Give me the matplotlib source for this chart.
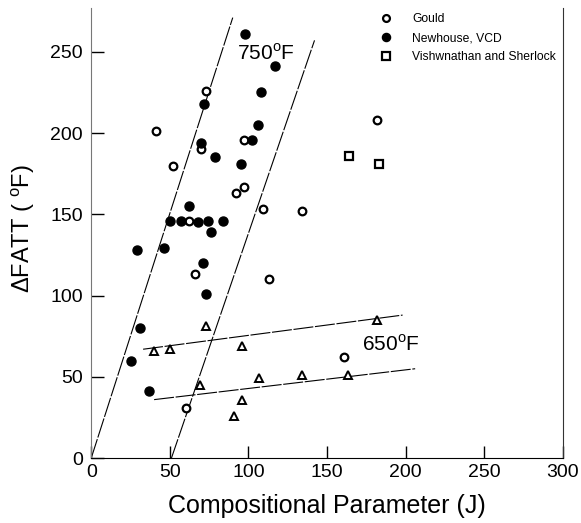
import matplotlib
matplotlib.use("Agg")
import matplotlib.pyplot as plt

plt.rcParams['font.family'] = ['Liberation Sans', 'DejaVu Sans']
plt.rcParams['mathtext.fontset'] = 'custom'
plt.rcParams['mathtext.rm'] = 'Liberation Sans'

# Gould (open circles)
gould_x = [41, 73, 70, 52, 62, 97, 97, 92, 109, 66, 113, 60, 182, 134, 161]
gould_y = [201, 226, 190, 180, 146, 196, 167, 163, 153, 113, 110, 31, 208, 152, 62]

# Newhouse, VCD (filled circles)
newh_x = [98, 117, 108, 72, 106, 102, 70, 79, 95, 62, 50, 57, 68, 74, 84, 76,
          29, 46, 71, 73, 31, 25, 37]
newh_y = [261, 241, 225, 218, 205, 196, 194, 185, 181, 155, 146, 146, 145, 146, 146, 139,
          128, 129, 120, 101, 80, 60, 41]

# Vishwnathan and Sherlock (squares)
vish_x = [164, 183]
vish_y = [186, 181]

# triangles (no legend entry)
tri_x = [73, 40, 50, 96, 69, 107, 96, 91, 182, 134, 163]
tri_y = [81, 66, 67, 69, 45, 49, 36, 26, 85, 51, 51]

# trend lines: (x0, x1), (y0, y1)
l750a_x, l750a_y = [0, 90], [0, 271]
l750b_x, l750b_y = [51, 142], [0, 257]
l650a_x, l650a_y = [33, 198], [67, 88]
l650b_x, l650b_y = [40, 206], [36, 55]

fig = plt.figure(figsize=(5.81, 5.23), dpi=100)
ax = fig.add_axes([0.157, 0.124, 0.812, 0.861])

for lx, ly in [(l750a_x, l750a_y), (l750b_x, l750b_y), (l650a_x, l650a_y), (l650b_x, l650b_y)]:
    ax.plot(lx, ly, color='black', lw=0.8, dashes=(18, 1.5))

ax.plot(gould_x, gould_y, 'o', ls='none', mfc='white', mec='black', mew=1.6, ms=5.5, label='Gould')
ax.plot(newh_x, newh_y, 'o', ls='none', color='black', ms=6.5, label='Newhouse, VCD')
ax.plot(vish_x, vish_y, 's', ls='none', mfc='white', mec='black', mew=1.6, ms=6, label='Vishwnathan and Sherlock')
ax.plot(tri_x, tri_y, '^', ls='none', mfc='white', mec='black', mew=1.4, ms=6)

ax.text(92.5, 249, r'750$^{\mathrm{o}}$F', fontsize=15, va='center', ha='left')
ax.text(172.5, 70, r'650$^{\mathrm{o}}$F', fontsize=15, va='center', ha='left')

ax.set_xlim(0, 300)
ax.set_ylim(0, 277)
ax.set_xticks([0, 50, 100, 150, 200, 250, 300])
ax.set_yticks([0, 50, 100, 150, 200, 250])
ax.tick_params(direction='in', length=9, width=1, labelsize=14)
ax.tick_params(axis='y', pad=6)
ax.tick_params(axis='x', pad=4)
ax.spines['top'].set_visible(False)
ax.spines['left'].set_color('#777777')
ax.spines['right'].set_color('#333333')

ax.set_xlabel('Compositional Parameter (J)', fontsize=18)
ax.set_ylabel(r'$\Delta$FATT ( $^{\mathrm{o}}$F)', fontsize=17)
ax.xaxis.set_label_coords(0.5, -0.08)
ax.yaxis.set_label_coords(-0.115, 0.509)

fig.legend(loc='upper left', bbox_to_anchor=(0.624, 0.995), frameon=False, fontsize=8.7,
           handletextpad=1.2, labelspacing=0.55, markerscale=0.9)

fig.savefig('out.png', dpi=100)
